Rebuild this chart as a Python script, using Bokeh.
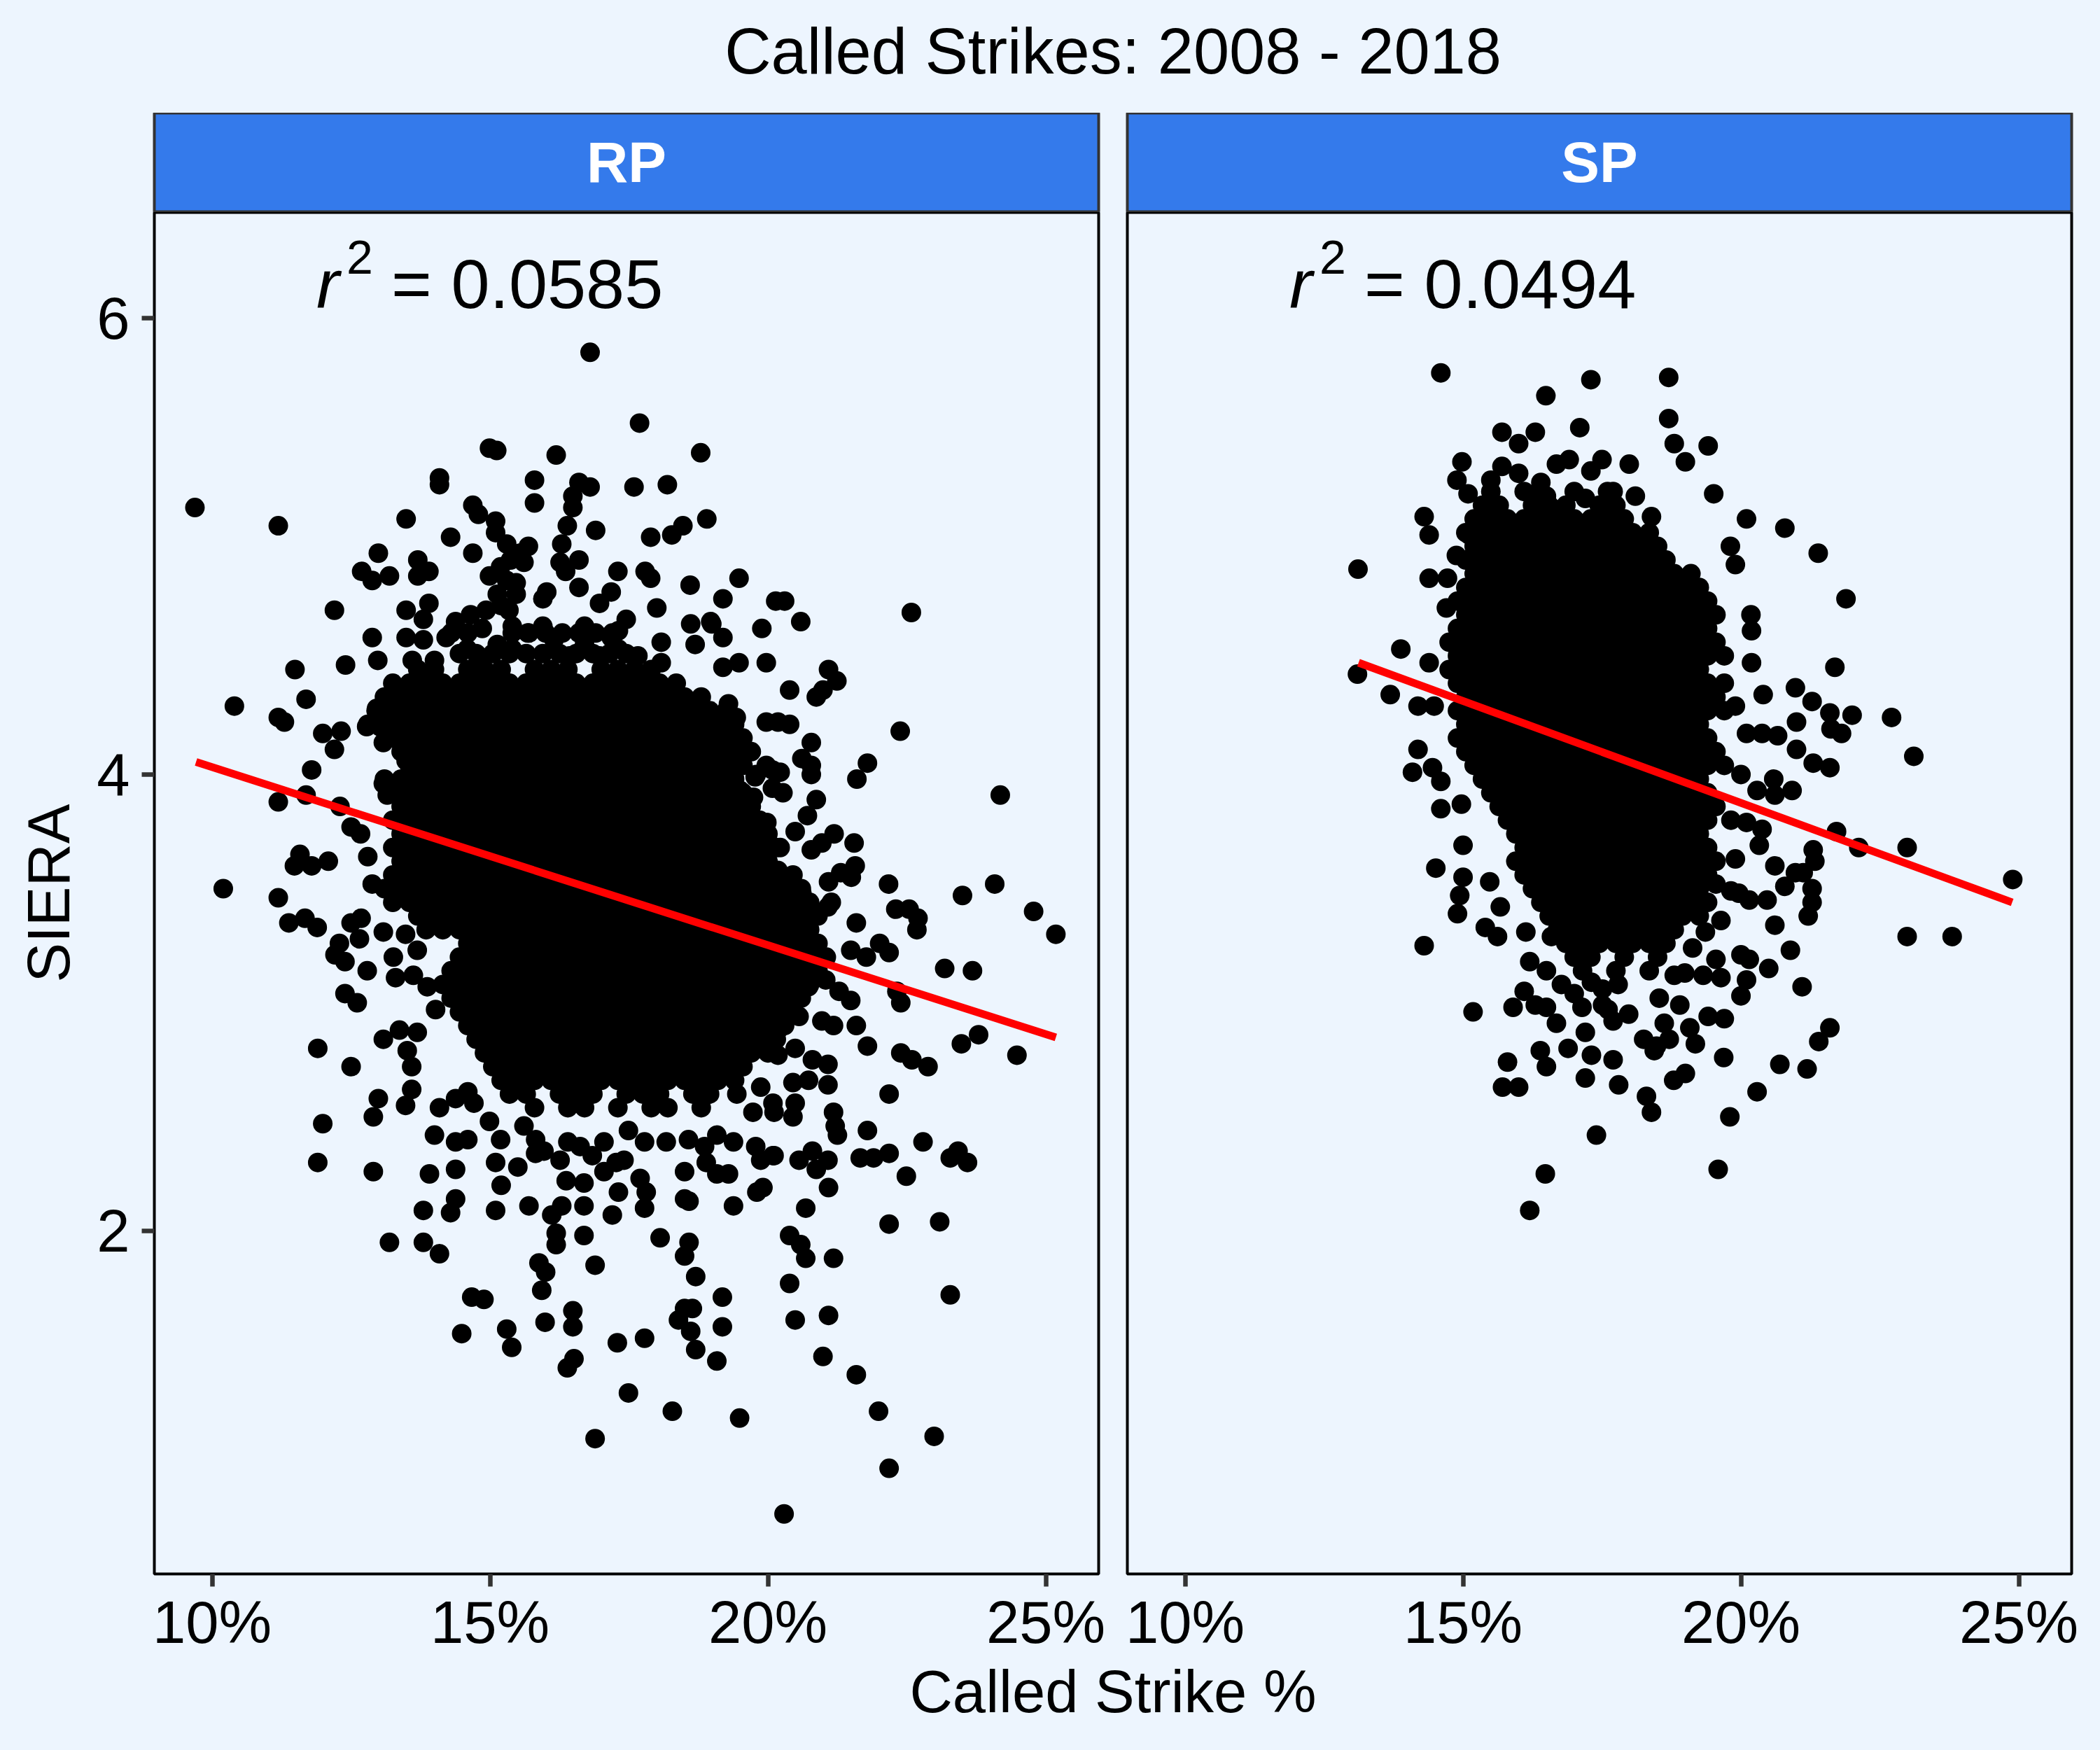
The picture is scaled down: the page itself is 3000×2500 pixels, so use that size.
from bokeh.plotting import figure
from bokeh.layouts import column, row
from bokeh.models import Range1d, FixedTicker, PrintfTickFormatter
from bokeh.embed import file_html
from bokeh.resources import INLINE
from bokeh.core.properties import value

# ---------------- data ----------------
chart_title = "Called Strikes: 2008 - 2018"
x_title = "Called Strike %"
y_title = "SIERA"
facets = ["RP", "SP"]
x_ticks = [10, 15, 20, 25]
y_ticks = [2, 4, 6]
x_limits = [8.96, 25.95]
y_limits = [0.497, 6.463]
r2_text = ["0.0585", "0.0494"]
r2_x = [15.0, 15.0]
r2_y = [6.2, 6.2]
rp_fit_x = [9.71, 25.18]
rp_fit_y = [4.055, 2.848]
sp_fit_x = [13.12, 24.88]
sp_fit_y = [4.49, 3.44]

# RP: individually readable points (called strike %, SIERA)
rp_points = [
    (16.80,5.85),(17.69,5.54),(14.99,5.43),(15.12,5.42),(16.19,5.40),(18.79,5.41),(9.69,5.17),(11.19,5.09),
    (14.09,5.30),(14.09,5.27),(15.80,5.29),(15.80,5.19),(16.60,5.28),(16.80,5.26),(16.49,5.22),(16.49,5.17),
    (17.59,5.26),(18.19,5.27),(13.49,5.12),(14.69,5.18),(14.79,5.14),(15.10,5.11),(15.10,5.06),(15.30,5.01),
    (16.39,5.09),(16.29,5.01),(16.90,5.07),(18.90,5.12),(18.47,5.09),(18.27,5.05),(17.89,5.04),(14.29,5.04),
    (14.69,4.97),(15.69,5.00),(15.61,4.93),(16.60,4.94),(16.26,4.93),(16.36,4.89),(17.30,4.89),(17.79,4.89),
    (17.89,4.86),(12.99,4.97),(12.69,4.89),(12.88,4.85),(13.19,4.87),(13.70,4.94),(13.70,4.87),(13.90,4.89),
    (14.99,4.87),(15.30,4.85),(15.47,4.84),(16.60,4.82),(17.18,4.80),(16.97,4.75),(18.60,4.83),(19.48,4.86),
    (19.19,4.77),(18.00,4.73),(12.20,4.72),(13.49,4.72),(13.90,4.75),(13.80,4.68),(15.13,4.79),(15.20,4.74),
    (16.02,4.80),(15.95,4.77),(17.45,4.68),(17.31,4.63),(17.18,4.60),(16.70,4.65),(18.61,4.66),(18.99,4.66),
    (18.69,4.57),(19.19,4.60),(19.89,4.64),(20.14,4.76),(18.08,4.58),(18.08,4.49),(19.19,4.47),(19.48,4.49),
    (19.97,4.49),(12.88,4.60),(12.98,4.50),(13.49,4.60),(13.80,4.59),(13.60,4.50),(14.00,4.50),(14.21,4.60),
    (14.59,4.55),(14.79,4.52),(15.40,4.65),(15.34,4.72),(15.47,4.79),(15.19,4.91),(15.37,4.94),(15.54,4.97),
    (14.38,4.67),(14.65,4.70),(14.93,4.72),(14.86,4.64),(15.13,4.57),(15.40,4.55),(15.68,4.62),(15.95,4.65),
    (16.15,4.59),(16.43,4.52),(16.97,4.52),(17.31,4.55),(17.66,4.52),(16.70,4.57),
    (12.40,4.48),(11.49,4.46),(11.69,4.33),(10.40,4.30),(11.19,4.25),(11.30,4.23),(11.99,4.18),(12.32,4.19),
    (12.20,4.11),(11.79,4.02),(11.19,3.88),(11.69,3.91),(12.30,3.86),(12.50,3.77),(12.67,3.74),(11.58,3.65),
    (11.48,3.60),(11.79,3.60),(12.09,3.62),(10.20,3.50),(11.19,3.46),(12.80,3.64),(12.88,3.52),(12.78,4.21),
    (12.96,4.29),(13.19,4.34),(13.08,4.14),(13.02,4.21),(13.49,4.06),(13.83,4.08),(13.08,3.96),(13.15,3.91),
    (13.53,4.37),
    (19.29,4.31),(19.43,4.25),(19.48,4.15),(19.29,4.02),(19.97,4.23),(19.77,3.99),(19.97,4.04),(18.92,3.92),
    (19.50,3.93),(19.16,3.81),(19.43,3.76),(19.50,3.67),(19.87,3.72),(19.50,3.62),(19.77,3.64),(19.84,3.49),
    (20.30,4.76),(22.58,4.71),(18.97,4.67),(20.59,4.67),(21.09,4.46),(21.24,4.41),(20.39,4.37),
    (20.87,4.34),(20.99,4.37),(20.18,4.23),(20.39,4.22),(22.38,4.19),(19.41,4.08),(20.78,4.14),
    (20.61,4.07),(20.78,4.04),(20.78,4.00),(21.79,4.05),(21.60,3.98),(24.18,3.91),(19.79,4.00),(20.08,4.02),
    (20.22,4.01),(19.74,3.90),(20.08,3.94),(20.27,3.92),(20.87,3.89),(20.71,3.82),
    (19.98,3.79),(19.89,3.72),(20.49,3.75),(20.22,3.68),(21.19,3.74),(20.97,3.70),(20.78,3.67),(21.55,3.70),
    (21.57,3.60),(21.31,3.57),(21.50,3.55),(21.09,3.53),(22.17,3.52),(23.50,3.47),(24.08,3.52),(19.79,3.62),
    (20.18,3.58),(19.02,3.52),(19.41,3.47),(20.03,3.46),(20.61,3.48),(21.14,3.44),(22.30,3.41),(22.54,3.41),
    (24.78,3.40),
    (25.18,3.30),(22.70,3.37),(22.68,3.32),(23.18,3.15),(23.68,3.14),(22.01,3.26),(22.18,3.22),(21.77,3.20),
    (21.49,3.23),(21.59,3.35),(21.08,3.42),(22.32,3.05),(22.39,3.00),(21.28,3.05),(21.49,3.01),
    (21.04,3.10),(20.73,3.07),(20.45,3.08),(20.97,2.92),(21.18,2.90),(21.59,2.90),(20.56,2.94),(20.18,2.88),
    (21.79,2.81),(22.39,2.78),(22.59,2.75),(22.88,2.72),(23.48,2.82),(23.79,2.86),(24.48,2.77),(20.49,2.80),
    (20.18,2.77),(20.80,2.75),(21.08,2.73),(20.45,2.65),(20.73,2.66),(21.08,2.64),(22.18,2.60),(20.49,2.56),
    (20.11,2.52),(20.45,2.50),(21.18,2.52),(21.25,2.42),(21.21,2.46),(21.79,2.44),(22.79,2.39),(20.11,2.33),
    (20.56,2.31),(20.80,2.35),(21.08,2.31),(20.87,2.27),(21.66,2.32),(21.90,2.32),(22.18,2.34),(23.28,2.32),
    (23.42,2.35),(23.59,2.30),(22.49,2.24),(21.09,2.19),(20.68,2.10),(22.18,2.03),(23.09,2.04),(20.39,1.98),
    (20.59,1.94),(20.68,1.88),(21.18,1.88),(20.39,1.77),(23.28,1.72),(20.49,1.61),(21.09,1.63),(20.99,1.45),
    (21.59,1.37),(21.99,1.21),(22.99,1.10),(22.18,0.96),
    (11.38,3.35),(11.67,3.37),(11.89,3.33),(12.50,3.35),(12.68,3.37),(13.08,3.31),(12.65,3.28),(12.29,3.26),
    (12.21,3.21),(12.39,3.18),(12.79,3.14),(13.26,3.20),(13.48,3.30),(13.69,3.23),(12.39,3.04),(12.61,3.00),
    (13.30,3.11),(13.62,3.12),(13.87,3.07),(14.02,2.97),(14.31,3.09),(11.90,2.80),(12.50,2.72),(13.08,2.84),
    (13.37,2.88),(13.69,2.87),(13.51,2.79),(13.59,2.72),(13.59,2.62),(13.48,2.55),(12.99,2.58),(12.90,2.50),
    (11.99,2.47),(11.90,2.30),(12.90,2.26),(14.09,2.54),(14.38,2.58),(14.60,2.61),(14.71,2.56),(14.00,2.42),
    (14.38,2.39),(14.60,2.40),(13.91,2.25),(14.38,2.27),(14.38,2.14),(14.29,2.08),(13.80,2.09),(13.19,1.95),
    (13.80,1.95),(14.09,1.90),(15.10,2.09),(15.10,2.30),(15.20,2.20),(14.99,2.48),(15.19,2.40),(15.50,2.28),
    (15.82,2.34),(15.70,2.11),(16.11,2.07),(16.29,2.11),(16.19,1.99),(16.19,1.94),(16.69,2.11),(16.69,1.98),
    (17.20,2.07),(16.89,1.85),(15.88,1.86),(16.00,1.82),(15.93,1.74),(14.67,1.71),(14.89,1.70),(15.99,1.60),
    (16.49,1.65),(16.49,1.58),(14.49,1.55),(15.30,1.57),(15.39,1.49),(16.39,1.40),(16.51,1.44),(17.29,1.51),
    (17.78,1.53),(17.49,1.29),(18.28,1.21),(16.89,1.09),(19.49,1.18),(20.29,0.76),(18.06,1.97),(18.58,1.95),
    (18.50,1.89),(18.70,1.80),(19.18,1.71),(18.50,1.66),(18.64,1.66),(18.39,1.61),(18.61,1.56),(18.70,1.48),
    (19.18,1.58),(19.08,1.43),(17.78,2.10),(18.50,2.26),(18.50,2.14),(18.58,2.13),(18.89,2.30),(19.08,2.25),
    (19.29,2.25),(19.38,2.11),(19.38,2.39),(19.78,2.37),(19.87,2.31),(20.09,2.33),(19.80,2.17),(19.91,2.19),
    (16.26,2.31),(16.40,2.39),(16.62,2.37),(16.69,2.21),(16.37,2.22),(16.84,2.33),(17.05,2.26),(17.27,2.30),
    (17.41,2.31),(17.70,2.23),(17.81,2.17),(17.31,2.17),(17.05,2.39),(17.49,2.44),(17.78,2.39),(18.17,2.39),
    (18.57,2.40),(18.86,2.37),(19.08,2.42),(15.61,2.46),(15.82,2.40),(15.97,2.35),
    (19.44,2.60),(19.87,2.63),(19.73,2.52),(20.09,2.56),
]

# RP: the solid core, where single points cannot be told apart (estimated rows)
rp_dense = [
    (4.62, [14.3,14.6,15.4,15.7,16.0,16.3,16.6,16.9,17.2]),
    (4.53, [14.45,14.75,15.05,15.35,15.65,15.95,16.25,16.55,16.85,17.15,17.45]),
    (4.46, [13.7,14.0,14.6,14.9,15.2,15.8,16.1,16.4,17.0,17.3,17.6,17.9]),
    (4.40, [13.25,13.55,13.85,14.15,14.45,14.75,15.05,15.35,15.65,15.95,16.25,16.55,16.85,17.15,17.45,17.75,18.05,18.35]),
    (4.34, [13.1,13.4,13.7,14.0,14.3,14.6,14.9,15.2,15.5,15.8,16.1,16.4,16.7,17.0,17.3,17.6,17.9,18.2,18.5,18.8]),
    (4.28, [12.95,13.25,13.55,13.85,14.15,14.45,14.75,15.05,15.35,15.65,15.95,16.25,16.55,16.85,17.15,17.45,17.75,18.05,18.35,18.65,18.95,19.25]),
    (4.22, [12.8,13.1,13.4,13.7,14.0,14.3,14.6,14.9,15.2,15.5,15.8,16.1,16.4,16.7,17.0,17.3,17.6,17.9,18.2,18.5,18.8,19.1,19.4]),
    (4.16, [13.25,13.55,13.85,14.15,14.45,14.75,15.05,15.35,15.65,15.95,16.25,16.55,16.85,17.15,17.45,17.75,18.05,18.35,18.65,18.95,19.25,19.55]),
    (4.10, [13.4,13.7,14.0,14.3,14.6,14.9,15.2,15.5,15.8,16.1,16.4,16.7,17.0,17.3,17.6,17.9,18.2,18.5,18.8,19.1,19.4,19.7]),
    (4.04, [13.55,13.85,14.15,14.45,14.75,15.05,15.35,15.65,15.95,16.25,16.55,16.85,17.15,17.45,17.75,18.05,18.35,18.65,18.95,19.25,19.55]),
    (3.98, [13.1,13.4,13.7,14.0,14.3,14.6,14.9,15.2,15.5,15.8,16.1,16.4,16.7,17.0,17.3,17.6,17.9,18.2,18.5,18.8,19.1,19.4]),
    (3.92, [13.25,13.55,13.85,14.15,14.45,14.75,15.05,15.35,15.65,15.95,16.25,16.55,16.85,17.15,17.45,17.75,18.05,18.35,18.65,18.95,19.25,19.55]),
    (3.86, [13.4,13.7,14.0,14.3,14.6,14.9,15.2,15.5,15.8,16.1,16.4,16.7,17.0,17.3,17.6,17.9,18.2,18.5,18.8,19.1,19.4,19.7]),
    (3.80, [13.25,13.55,13.85,14.15,14.45,14.75,15.05,15.35,15.65,15.95,16.25,16.55,16.85,17.15,17.45,17.75,18.05,18.35,18.65,18.95,19.25,19.55,19.85]),
    (3.74, [13.4,13.7,14.0,14.3,14.6,14.9,15.2,15.5,15.8,16.1,16.4,16.7,17.0,17.3,17.6,17.9,18.2,18.5,18.8,19.1,19.4,19.7,20.0]),
    (3.68, [13.25,13.55,13.85,14.15,14.45,14.75,15.05,15.35,15.65,15.95,16.25,16.55,16.85,17.15,17.45,17.75,18.05,18.35,18.65,18.95,19.25,19.55,19.85,20.15]),
    (3.62, [13.4,13.7,14.0,14.3,14.6,14.9,15.2,15.5,15.8,16.1,16.4,16.7,17.0,17.3,17.6,17.9,18.2,18.5,18.8,19.1,19.4,19.7,20.0]),
    (3.56, [13.25,13.55,13.85,14.15,14.45,14.75,15.05,15.35,15.65,15.95,16.25,16.55,16.85,17.15,17.45,17.75,18.05,18.35,18.65,18.95,19.25,19.55,19.85,20.15,20.45]),
    (3.50, [13.1,13.4,13.7,14.0,14.3,14.6,14.9,15.2,15.5,15.8,16.1,16.4,16.7,17.0,17.3,17.6,17.9,18.2,18.5,18.8,19.1,19.4,19.7,20.0,20.3,20.6]),
    (3.44, [13.25,13.55,13.85,14.15,14.45,14.75,15.05,15.35,15.65,15.95,16.25,16.55,16.85,17.15,17.45,17.75,18.05,18.35,18.65,18.95,19.25,19.55,19.85,20.15,20.45,20.75]),
    (3.38, [13.7,14.0,14.3,14.6,14.9,15.2,15.5,15.8,16.1,16.4,16.7,17.0,17.3,17.6,17.9,18.2,18.5,18.8,19.1,19.4,19.7,20.0,20.3,20.6,20.9]),
    (3.32, [13.85,14.15,14.45,14.75,15.05,15.35,15.65,15.95,16.25,16.55,16.85,17.15,17.45,17.75,18.05,18.35,18.65,18.95,19.25,19.55,19.85,20.15,20.45,20.75]),
    (3.26, [14.6,14.9,15.2,15.5,15.8,16.1,16.4,16.7,17.0,17.3,17.6,17.9,18.2,18.5,18.8,19.1,19.4,19.7,20.0,20.3,20.6,20.9]),
    (3.20, [14.45,14.75,15.05,15.35,15.65,15.95,16.25,16.55,16.85,17.15,17.45,17.75,18.05,18.35,18.65,18.95,19.25,19.55,19.85,20.15,20.45,20.75,21.05]),
    (3.14, [14.3,14.6,14.9,15.2,15.5,15.8,16.1,16.4,16.7,17.0,17.3,17.6,17.9,18.2,18.5,18.8,19.1,19.4,19.7,20.0,20.3,20.6,20.9]),
    (3.08, [14.15,14.45,14.75,15.05,15.35,15.65,15.95,16.25,16.55,16.85,17.15,17.45,17.75,18.05,18.35,18.65,18.95,19.25,19.55,19.85,20.15,20.45,20.75]),
    (3.02, [14.3,14.6,14.9,15.2,15.5,15.8,16.1,16.4,16.7,17.0,17.3,17.6,17.9,18.2,18.5,18.8,19.1,19.4,19.7,20.0,20.3,20.6]),
    (2.96, [14.45,14.75,15.05,15.35,15.65,15.95,16.25,16.55,16.85,17.15,17.45,17.75,18.05,18.35,18.65,18.95,19.25,19.55,19.85,20.15,20.45]),
    (2.90, [14.6,14.9,15.2,15.5,15.8,16.1,16.4,16.7,17.0,17.3,17.6,17.9,18.2,18.5,18.8,19.1,19.4,19.7,20.0,20.3]),
    (2.84, [14.75,15.05,15.35,15.65,15.95,16.25,16.55,16.85,17.15,17.45,17.75,18.05,18.35,18.65,18.95,19.25,19.55,19.85,20.15]),
    (2.78, [14.9,15.2,15.5,15.8,16.1,16.4,16.7,17.0,17.3,17.6,17.9,18.2,18.5,18.8,19.1,19.4,19.7,20.0]),
    (2.72, [15.05,15.35,15.65,15.95,16.25,16.55,16.85,17.15,17.45,17.75,18.05,18.35,18.65,18.95,19.25,19.55]),
    (2.66, [15.2,15.5,15.8,16.1,16.4,16.7,17.0,17.3,17.6,17.9,18.2,18.5,18.8,19.1,19.4]),
    (2.60, [15.35,15.65,16.25,16.55,16.85,17.45,17.75,18.05,18.65,18.95]),
    (2.54, [15.8,16.4,16.7,17.3,17.9,18.2,18.8]),
]

# SP: individually readable points
sp_points = [
    (14.60,5.76),(17.30,5.73),(18.70,5.74),(16.49,5.66),(18.70,5.56),(17.10,5.52),(15.70,5.50),(16.00,5.45),
    (16.30,5.50),(18.80,5.45),(19.00,5.37),(19.41,5.44),(19.51,5.23),(14.98,5.37),(14.89,5.29),(15.09,5.23),
    (15.50,5.29),(15.70,5.35),(16.00,5.32),(16.40,5.28),(16.50,5.22),(16.68,5.36),(16.91,5.38),(17.30,5.33),
    (17.50,5.38),(17.99,5.36),(18.10,5.22),(17.20,5.21),(17.70,5.24),(18.39,5.13),(20.10,5.12),(20.79,5.08),
    (19.81,5.00),(19.90,4.92),(21.39,4.97),(21.89,4.77),(14.30,5.13),(14.39,5.05),(13.11,4.90),(14.39,4.86),
    (14.72,4.86),(14.70,4.73),(14.88,4.96),(15.11,5.05),(13.88,4.55),(14.39,4.49),(13.10,4.44),(13.69,4.35),
    (14.19,4.30),(14.48,4.30),(14.19,4.11),(14.09,4.01),(14.45,4.03),(14.60,3.97),(14.60,3.85),(14.97,3.87),
    (15.00,3.69),(14.51,3.59),(15.00,3.55),(14.94,3.47),(14.90,3.39),(14.30,3.25),(15.18,2.96),(15.40,3.33),
    (15.62,3.29),(16.13,3.31),(16.20,3.18),(16.50,3.14),(16.10,3.05),(16.30,2.99),(16.50,2.98),(15.90,2.98),
    (15.80,2.74),(16.39,2.79),(16.50,2.72),(15.71,2.63),(16.00,2.63),(16.68,2.91),(16.89,2.80),(17.20,2.87),
    (17.31,2.77),(17.70,2.75),(17.20,2.67),(17.80,2.64),(18.30,2.59),(18.39,2.52),(17.40,2.42),(18.79,2.66),
    (19.00,2.69),(19.69,2.76),(19.80,2.50),(20.29,2.61),(20.70,2.73),(21.19,2.71),(21.40,2.83),(21.60,2.89),
    (21.10,3.07),(20.89,3.23),(20.50,3.15),(20.10,3.10),(20.00,3.03),(20.61,3.34),(21.21,3.38),(21.28,3.44),
    (21.28,3.50),(20.79,3.51),(21.33,3.62),(21.30,3.67),(21.72,3.75),(22.12,3.68),(22.99,3.68),(24.89,3.54),
    (22.99,3.29),(23.80,3.29),(21.60,4.03),(21.30,4.05),(20.92,3.93),(20.59,3.98),(20.61,3.91),(21.00,4.11),
    (21.00,4.23),(22.71,4.25),(23.11,4.08),(21.81,4.18),(21.60,4.27),(22.00,4.26),(21.62,4.20),(20.98,4.38),
    (21.28,4.32),(21.69,4.47),(20.40,4.35),(20.19,4.49),(20.19,4.63),(20.18,4.70),(19.90,4.30),(20.10,4.18),
    (20.38,4.18),(20.66,4.17),(20.00,4.00),(20.29,3.93),(19.82,3.80),(20.10,3.79),(20.33,3.69),(19.90,3.63),
    (20.61,3.60),(20.98,3.57),(19.96,3.48),(20.15,3.45),(20.47,3.45),(19.64,3.36),(19.13,3.24),(19.36,3.31),
    (19.32,3.12),(19.64,3.11),(19.08,2.89),(19.41,2.94),(19.70,2.93),(18.71,2.84),(18.62,2.91),(18.44,2.79),
    (18.80,3.12),(18.99,3.13),(17.98,2.95),(17.70,2.92),(17.51,2.99),
    (16.48,2.25),(16.20,2.09),(19.59,2.27),(15.48,3.53),(15.67,3.42),(16.59,3.29),
    (16.77,3.08),(17.00,3.04),(17.31,3.09),(17.51,3.06),(17.79,3.08),(17.61,2.97),
    (17.14,2.98),(18.25,2.84),(18.48,2.81),(18.90,2.99),(19.18,2.82),(18.53,3.02),
    (19.55,3.19),(20.00,3.21),(20.15,3.19),(21.12,3.57),(20.38,3.76),(19.55,3.52),(19.82,3.49),
]

# SP: solid core rows (estimated)
sp_dense = [
    (5.24, [15.5,16.1,16.4,17.0,17.6]),
    (5.18, [15.35,15.65,16.25,16.55,16.85,17.45,17.75]),
    (5.12, [15.2,15.5,15.8,16.1,16.4,16.7,17.0,17.3,17.6,17.9]),
    (5.06, [15.05,15.35,15.65,15.95,16.25,16.55,16.85,17.15,17.45,17.75,18.05,18.35]),
    (5.00, [15.2,15.5,15.8,16.1,16.4,16.7,17.0,17.3,17.6,17.9,18.2,18.5]),
    (4.94, [15.05,15.35,15.65,15.95,16.25,16.55,16.85,17.15,17.45,17.75,18.05,18.35,18.65]),
    (4.88, [15.2,15.5,15.8,16.1,16.4,16.7,17.0,17.3,17.6,17.9,18.2,18.5,18.8,19.1]),
    (4.82, [15.05,15.35,15.65,15.95,16.25,16.55,16.85,17.15,17.45,17.75,18.05,18.35,18.65,18.95,19.25]),
    (4.76, [14.9,15.2,15.5,15.8,16.1,16.4,16.7,17.0,17.3,17.6,17.9,18.2,18.5,18.8,19.1,19.4]),
    (4.70, [15.05,15.35,15.65,15.95,16.25,16.55,16.85,17.15,17.45,17.75,18.05,18.35,18.65,18.95,19.25,19.55]),
    (4.64, [14.9,15.2,15.5,15.8,16.1,16.4,16.7,17.0,17.3,17.6,17.9,18.2,18.5,18.8,19.1,19.4]),
    (4.58, [14.75,15.05,15.35,15.65,15.95,16.25,16.55,16.85,17.15,17.45,17.75,18.05,18.35,18.65,18.95,19.25,19.55]),
    (4.52, [14.9,15.2,15.5,15.8,16.1,16.4,16.7,17.0,17.3,17.6,17.9,18.2,18.5,18.8,19.1,19.4,19.7]),
    (4.46, [14.75,15.05,15.35,15.65,15.95,16.25,16.55,16.85,17.15,17.45,17.75,18.05,18.35,18.65,18.95,19.25]),
    (4.40, [14.9,15.2,15.5,15.8,16.1,16.4,16.7,17.0,17.3,17.6,17.9,18.2,18.5,18.8,19.1,19.4,19.7]),
    (4.34, [15.05,15.35,15.65,15.95,16.25,16.55,16.85,17.15,17.45,17.75,18.05,18.35,18.65,18.95,19.25,19.55]),
    (4.28, [14.9,15.2,15.5,15.8,16.1,16.4,16.7,17.0,17.3,17.6,17.9,18.2,18.5,18.8,19.1,19.4,19.7]),
    (4.22, [15.05,15.35,15.65,15.95,16.25,16.55,16.85,17.15,17.45,17.75,18.05,18.35,18.65,18.95,19.25]),
    (4.16, [14.9,15.2,15.5,15.8,16.1,16.4,16.7,17.0,17.3,17.6,17.9,18.2,18.5,18.8,19.1,19.4]),
    (4.10, [15.05,15.35,15.65,15.95,16.25,16.55,16.85,17.15,17.45,17.75,18.05,18.35,18.65,18.95,19.25,19.55]),
    (4.04, [15.2,15.5,15.8,16.1,16.4,16.7,17.0,17.3,17.6,17.9,18.2,18.5,18.8,19.1,19.4,19.7]),
    (3.98, [15.35,15.65,15.95,16.25,16.55,16.85,17.15,17.45,17.75,18.05,18.35,18.65,18.95,19.25]),
    (3.92, [15.5,15.8,16.1,16.4,16.7,17.0,17.3,17.6,17.9,18.2,18.5,18.8,19.1,19.4]),
    (3.86, [15.65,15.95,16.25,16.55,16.85,17.15,17.45,17.75,18.05,18.35,18.65,18.95,19.25,19.55]),
    (3.80, [15.8,16.1,16.4,16.7,17.0,17.3,17.6,17.9,18.2,18.5,18.8,19.1,19.4]),
    (3.74, [15.95,16.25,16.55,16.85,17.15,17.45,17.75,18.05,18.35,18.65,18.95,19.25]),
    (3.68, [16.1,16.4,16.7,17.0,17.3,17.6,17.9,18.2,18.5,18.8,19.1,19.4]),
    (3.62, [15.95,16.25,16.55,16.85,17.15,17.45,17.75,18.05,18.35,18.65,18.95,19.25,19.55]),
    (3.56, [16.1,16.4,16.7,17.0,17.3,17.6,17.9,18.2,18.5,18.8,19.1,19.4]),
    (3.50, [16.25,16.55,16.85,17.15,17.45,17.75,18.05,18.35,18.65,18.95,19.25]),
    (3.44, [16.4,16.7,17.0,17.3,17.6,17.9,18.2,18.5,18.8,19.1,19.4]),
    (3.38, [16.55,16.85,17.15,17.45,17.75,18.05,18.35,18.65,18.95,19.25]),
    (3.32, [16.7,17.0,17.3,17.6,17.9,18.2,18.5,18.8]),
    (3.26, [16.85,17.15,17.45,17.75,18.05,18.35,18.65]),
    (3.20, [17.0,17.3,17.9,18.5]),
    (3.14, [17.15,17.75,18.35]),
]

# ---------------- style / layout ----------------
FONT = "Liberation Sans"
BG = "#EDF5FE"
STRIP = "#347AEB"
W_L, W_R = 1589, 1411
BL_L, BR_L = 220, 20
BL_R, BR_R = 21, 41
FRAME_H = 1945
B_BOTTOM = 140
TITLE_H = 161
STRIP_H = 142
XLAB_OVERLAP = 30
XLAB_H = 112 + XLAB_OVERLAP


def unpack(points, dense):
    xs = [p[0] for p in points]
    ys = [p[1] for p in points]
    for yv, row_x in dense:
        for xv in row_x:
            xs.append(xv)
            ys.append(yv)
    return xs, ys


def blank_fig(width, height, bl, br, fill, outline=None, outline_w=0):
    f = figure(width=width, height=height, x_range=Range1d(0, 1), y_range=Range1d(0, 1),
               output_backend="svg", toolbar_location=None,
               x_axis_location=None, y_axis_location=None,
               min_border_left=bl, min_border_right=br, min_border_top=0, min_border_bottom=0,
               background_fill_color=fill, border_fill_color=BG,
               outline_line_color=outline, outline_line_width=outline_w)
    f.grid.visible = False
    f.xgrid.grid_line_color = None
    f.ygrid.grid_line_color = None
    return f


def strip_fig(i):
    left = i == 0
    s = blank_fig(W_L if left else W_R, STRIP_H, BL_L if left else BL_R, BR_L if left else BR_R,
                  STRIP, outline="#333333", outline_w=4)
    s.text(x=[0.5], y=[0.5], text=[facets[i]], text_font=value(FONT), text_font_style="bold",
           text_font_size="82px", text_color="white", text_align="center",
           text_baseline="alphabetic", y_offset=-1)
    return s


def style_axis(ax, standoff):
    ax.major_label_text_font = FONT
    ax.major_label_text_font_size = "85px"
    ax.major_label_text_color = "black"
    ax.major_tick_out = 18
    ax.major_tick_in = 0
    ax.major_tick_line_width = 6.5
    ax.major_tick_line_color = "#333333"
    ax.minor_tick_line_color = None
    ax.axis_line_color = None
    ax.major_label_standoff = standoff


def panel_fig(i, xs, ys, fx, fy):
    left = i == 0
    p = figure(width=W_L if left else W_R, height=FRAME_H + B_BOTTOM,
               x_range=Range1d(*x_limits), y_range=Range1d(*y_limits),
               output_backend="svg", toolbar_location=None,
               x_axis_location="below", y_axis_location="left" if left else None,
               min_border_left=BL_L if left else BL_R, min_border_right=BR_L if left else BR_R,
               min_border_top=0, min_border_bottom=B_BOTTOM,
               background_fill_color=BG, border_fill_color=BG,
               outline_line_color="black", outline_line_width=4)
    p.grid.visible = False
    for ax in p.xaxis:
        ax.ticker = FixedTicker(ticks=x_ticks)
        ax.formatter = PrintfTickFormatter(format="%d%%")
        style_axis(ax, 3)
    if left:
        for ax in p.yaxis:
            ax.ticker = FixedTicker(ticks=y_ticks)
            style_axis(ax, 17)
            ax.axis_label = y_title
            ax.axis_label_text_font = FONT
            ax.axis_label_text_font_size = "85px"
            ax.axis_label_text_font_style = "normal"
            ax.axis_label_text_color = "black"
            ax.axis_label_standoff = 18
    p.scatter(xs, ys, size=28, fill_color="black", line_color=None)
    p.line(fx, fy, line_color="#FF0000", line_width=11)
    common = dict(text_font=value(FONT), text_color="black", text_align="left",
                  text_baseline="alphabetic")
    p.text(x=[r2_x[i]], y=[r2_y[i]], text=["r"], text_font_style="italic",
           text_font_size="99px", x_offset=-248, y_offset=16, **common)
    p.text(x=[r2_x[i]], y=[r2_y[i]], text=["2"], text_font_size="68px",
           x_offset=-205, y_offset=-22, **common)
    p.text(x=[r2_x[i]], y=[r2_y[i]], text=["= " + r2_text[i]], text_font_size="99px",
           x_offset=-141, y_offset=16, **common)
    return p


rp_x, rp_y = unpack(rp_points, rp_dense)
sp_x, sp_y = unpack(sp_points, sp_dense)

title_fig = blank_fig(W_L + W_R, TITLE_H, BL_L, BR_R, BG)
title_fig.text(x=[0.5], y=[0.5], text=[chart_title], text_font=value(FONT), text_font_size="92px",
               text_color="black", text_align="center", text_baseline="alphabetic", y_offset=-8)

# x-axis title strip, pulled up over the empty lower edge of the panels so the
# text box has room above its glyphs
xlab_fig = blank_fig(W_L + W_R, XLAB_H, BL_L, BR_R, BG)
xlab_fig.margin = (-XLAB_OVERLAP, 0, 0, 0)
xlab_fig.text(x=[0.5], y=[0.5], text=[x_title], text_font=value(FONT), text_font_size="85px",
              text_color="black", text_align="center", text_baseline="alphabetic", y_offset=-13)

layout = column(
    title_fig,
    row(strip_fig(0), strip_fig(1)),
    row(panel_fig(0, rp_x, rp_y, rp_fit_x, rp_fit_y), panel_fig(1, sp_x, sp_y, sp_fit_x, sp_fit_y)),
    xlab_fig,
)

html = file_html(layout, INLINE, title="Called Strikes: 2008 - 2018")
html = html.replace("</head>", "<style>html, body { background-color: %s; }</style>\n</head>" % BG, 1)
open("out.html", "w").write(html)
